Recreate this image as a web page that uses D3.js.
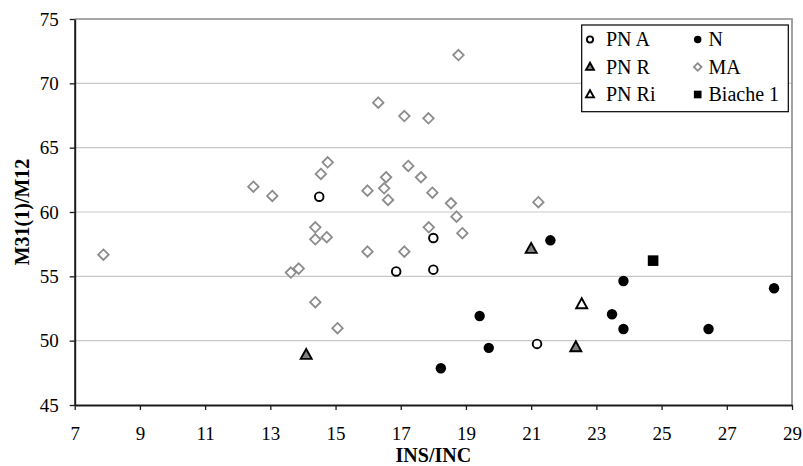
<!DOCTYPE html>
<html>
<head>
<meta charset="utf-8">
<script src="https://cdn.jsdelivr.net/npm/d3@7"></script>
<style>
  html, body { margin: 0; padding: 0; background: #ffffff; }
  svg { display: block; }
</style>
</head>
<body>
<svg id="chart" width="803" height="466"></svg>
<script>
// ---- data ----
const xTicks = [7, 9, 11, 13, 15, 17, 19, 21, 23, 25, 27, 29];
const yTicks = [45, 50, 55, 60, 65, 70, 75];
const xTitle = "INS/INC";
const yTitle = "M31(1)/M12";

const pnA_x = [14.50, 18.00, 16.86, 18.00, 21.18];
const pnA_y = [61.19, 57.98, 55.38, 55.52, 49.75];

const n_x = [21.59, 19.42, 23.83, 28.45, 23.48, 23.83, 26.44, 19.70, 18.23];
const n_y = [57.80, 51.92, 54.64, 54.07, 52.05, 50.91, 50.91, 49.44, 47.86];

const pnR_x = [14.10, 21.00, 22.37];
const pnR_y = [48.89, 57.13, 49.49];

const ma_x = [18.77, 16.31, 17.11, 17.85, 14.76, 14.55, 17.23, 12.48, 13.06, 16.55,
              15.98, 16.49, 16.61, 17.62, 17.97, 18.54, 18.71, 18.89, 17.86, 14.38,
              14.38, 14.73, 15.98, 17.11, 13.63, 13.87, 14.38, 15.06, 7.88, 21.22];
const ma_y = [72.20, 68.50, 67.46, 67.28, 63.86, 62.96, 63.58, 61.97, 61.25, 62.70,
              61.66, 61.84, 60.94, 62.70, 61.50, 60.68, 59.64, 58.35, 58.81, 58.81,
              57.88, 58.04, 56.92, 56.92, 55.29, 55.60, 52.99, 50.97, 56.68, 60.76];

const pnRi_x = [22.55];
const pnRi_y = [52.83];

const biache_x = [24.74];
const biache_y = [56.22];

const seriesNames = ["PN A", "N", "PN R", "MA", "PN Ri", "Biache 1"];

// ---- layout ----
const svg = d3.select("#chart");
const x = d3.scaleLinear().domain([7, 29]).range([74.7, 792]);
const y = d3.scaleLinear().domain([45, 75]).range([405, 19]);
const FONT = "'Liberation Serif', 'Times New Roman', serif";

// gridlines
svg.append("g").selectAll("line")
  .data(yTicks.filter(v => v > 45 && v < 75))
  .join("line")
  .attr("x1", x(7)).attr("x2", x(29))
  .attr("y1", d => y(d)).attr("y2", d => y(d))
  .attr("stroke", "#c8c8c8").attr("stroke-width", 1.2);

// top & right border of plot area
svg.append("path")
  .attr("d", `M${x(7)},${y(75)}H${x(29)}V${y(45)}`)
  .attr("fill", "none").attr("stroke", "#8a8a8a").attr("stroke-width", 1.6);

// axes
const xAxis = d3.axisBottom(x).tickValues(xTicks).tickFormat(d3.format("d"))
  .tickSizeInner(5).tickSizeOuter(0).tickPadding(17);
const gx = svg.append("g").attr("transform", `translate(0,${y(45)})`).call(xAxis);
gx.select(".domain").attr("stroke", "#1a1a1a").attr("stroke-width", 2);
gx.selectAll(".tick line").attr("stroke", "#1a1a1a").attr("stroke-width", 1.3);
gx.selectAll("text").attr("font-family", FONT).attr("font-size", 19).attr("fill", "#000");

const yAxis = d3.axisLeft(y).tickValues(yTicks).tickFormat(d3.format("d"))
  .tickSizeInner(5).tickSizeOuter(0).tickPadding(11);
const gy = svg.append("g").attr("transform", `translate(${x(7)},0)`).call(yAxis);
gy.select(".domain").attr("stroke", "#1a1a1a").attr("stroke-width", 2);
gy.selectAll(".tick line").attr("stroke", "#1a1a1a").attr("stroke-width", 1.3);
gy.selectAll("text").attr("font-family", FONT).attr("font-size", 19).attr("fill", "#000");

// titles
svg.append("text")
  .attr("x", (x(7) + x(29)) / 2).attr("y", 462)
  .attr("text-anchor", "middle")
  .attr("font-family", FONT).attr("font-size", 20).attr("font-weight", "bold")
  .text(xTitle);
svg.append("text")
  .attr("transform", `translate(29,${(y(45) + y(75)) / 2}) rotate(-90)`)
  .attr("text-anchor", "middle")
  .attr("font-family", FONT).attr("font-size", 20).attr("font-weight", "bold")
  .text(yTitle);

// ---- markers ----
function triPath(s) {
  const h = s * 0.9;
  return `M0,${-h * 0.6}L${s / 2},${h * 0.4}L${-s / 2},${h * 0.4}Z`;
}
function diamondPath(s) {
  const r = s / 2;
  return `M0,${-r}L${r},0L0,${r}L${-r},0Z`;
}
const styles = {
  "PN A":     (g, k) => g.append("circle").attr("r", 4.3 * k).attr("fill", "#fff").attr("stroke", "#000").attr("stroke-width", 1.9),
  "N":        (g, k) => g.append("circle").attr("r", 5.2 * k).attr("fill", "#000"),
  "PN R":     (g, k) => g.append("path").attr("d", triPath(11 * k)).attr("fill", "#808080").attr("stroke", "#000").attr("stroke-width", 1.9).attr("stroke-linejoin", "miter"),
  "MA":       (g, k) => g.append("path").attr("d", diamondPath(10.5 * k)).attr("fill", "#fff").attr("stroke", "#8c8c8c").attr("stroke-width", 1.8),
  "PN Ri":    (g, k) => g.append("path").attr("d", triPath(11 * k)).attr("fill", "#fff").attr("stroke", "#000").attr("stroke-width", 1.9).attr("stroke-linejoin", "miter"),
  "Biache 1": (g, k) => g.append("rect").attr("x", -5.3 * k).attr("y", -5.3 * k).attr("width", 10.6 * k).attr("height", 10.6 * k).attr("fill", "#000")
};

function drawSeries(name, xs, ys) {
  const pts = xs.map((v, i) => ({ x: v, y: ys[i] }));
  const g = svg.append("g").attr("class", "series");
  pts.forEach(p => {
    const m = g.append("g").attr("transform", `translate(${x(p.x)},${y(p.y)})`);
    styles[name](m, 1);
  });
}
drawSeries("MA", ma_x, ma_y);
drawSeries("PN A", pnA_x, pnA_y);
drawSeries("PN R", pnR_x, pnR_y);
drawSeries("PN Ri", pnRi_x, pnRi_y);
drawSeries("N", n_x, n_y);
drawSeries("Biache 1", biache_x, biache_y);

// ---- legend ----
const lg = svg.append("g");
lg.append("rect").attr("x", 581.7).attr("y", 25).attr("width", 206.6).attr("height", 86.7)
  .attr("fill", "#fff").attr("stroke", "#000").attr("stroke-width", 1.2);
const colMarkX = [590, 697.7];
const colTextX = [606, 708.5];
const rowY = [39.5, 67, 94.5];
seriesNames.forEach((name, i) => {
  const c = i % 2, r = Math.floor(i / 2);
  const m = lg.append("g").attr("transform", `translate(${colMarkX[c]},${rowY[r]})`);
  styles[name](m, 0.72);
  lg.append("text").attr("x", colTextX[c]).attr("y", rowY[r]).attr("dy", "0.34em")
    .attr("font-family", FONT).attr("font-size", 20).attr("fill", "#000").text(name);
});
</script>
</body>
</html>
